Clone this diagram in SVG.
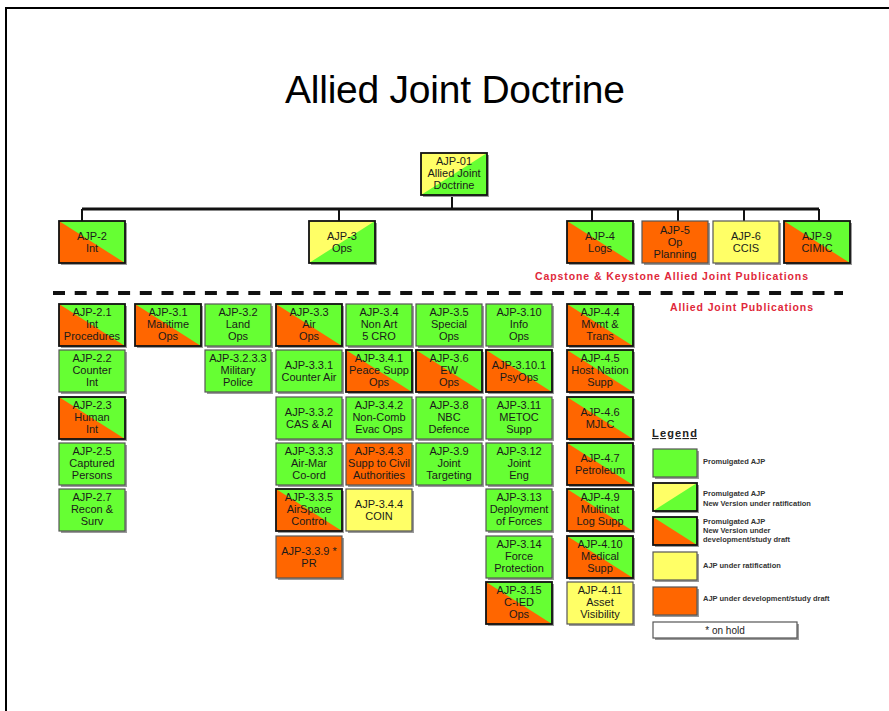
<svg xmlns="http://www.w3.org/2000/svg" xmlns:xlink="http://www.w3.org/1999/xlink" width="889" height="711" viewBox="0 0 889 711">
<style>
.g{fill:#66ff33}
.o{fill:#ff6600}
.y{fill:#ffff66}
.sh{fill:#9a9a9a}
.fr{fill:none;stroke:#555;stroke-width:1.2}
.frb{fill:none;stroke:#111;stroke-width:1.8}
.t{font-family:"Liberation Sans",Arial,sans-serif;font-size:11px;fill:#1a1a1a;text-anchor:middle}
.red{font-family:"Liberation Sans",Arial,sans-serif;font-size:10.5px;font-weight:bold;fill:#e0283a}
.lg{font-family:"Liberation Sans",Arial,sans-serif;font-size:7.5px;font-weight:bold;fill:#333}
.conn{fill:none;stroke:#111;stroke-width:3}
.stem{fill:none;stroke:#111;stroke-width:2}
</style>
<defs>
<g id="bg"><rect x="2" y="2" width="66" height="42" class="sh"/><rect width="66" height="42" class="g"/><rect width="66" height="42" class="fr"/></g>
<g id="bo"><rect x="2" y="2" width="66" height="42" class="sh"/><rect width="66" height="42" class="o"/><rect width="66" height="42" class="fr"/></g>
<g id="by"><rect x="2" y="2" width="66" height="42" class="sh"/><rect width="66" height="42" class="y"/><rect width="66" height="42" class="fr"/></g>
<g id="bog"><rect x="2" y="2" width="66" height="42" class="sh"/><rect width="66" height="42" class="g"/><path d="M0,0 L66,42 L0,42 Z" class="o"/><rect width="66" height="42" class="frb"/></g>
<g id="byg"><rect x="2" y="2" width="66" height="42" class="sh"/><rect width="66" height="42" class="g"/><path d="M0,0 L66,0 L0,42 Z" class="y"/><rect width="66" height="42" class="frb"/></g>
</defs>

<rect width="889" height="711" fill="#fff"/>
<path d="M6,711 V8 H889" fill="none" stroke="#000" stroke-width="2"/>

<text x="455" y="103" text-anchor="middle" textLength="340" font-family="'Liberation Sans',Arial,sans-serif" font-size="39" fill="#000">Allied Joint Doctrine</text>

<g id="connectors">
<path class="stem" d="M452,196 V209"/>
<path class="conn" d="M82,209 H819"/>
<path class="stem" d="M82,209 V221 M339,209 V221 M592,209 V221 M678,209 V221 M744,209 V221 M819,209 V221"/>
<path d="M53,293 H843" fill="none" stroke="#111" stroke-width="4" stroke-dasharray="12,9.7"/>
</g>

<g id="ajp-01" transform="translate(421,153)"><use href="#byg"/><text class="t"><tspan x="33" y="12">AJP-01</tspan><tspan x="33" y="24">Allied Joint</tspan><tspan x="33" y="36">Doctrine</tspan></text></g>

<g id="ajp-2" transform="translate(59,221)"><use href="#bog"/><text class="t"><tspan x="33" y="19">AJP-2</tspan><tspan x="33" y="31">Int</tspan></text></g>
<g id="ajp-3" transform="translate(309,221)"><use href="#byg"/><text class="t"><tspan x="33" y="19">AJP-3</tspan><tspan x="33" y="31">Ops</tspan></text></g>
<g id="ajp-4" transform="translate(567,221)"><use href="#bog"/><text class="t"><tspan x="33" y="19">AJP-4</tspan><tspan x="33" y="31">Logs</tspan></text></g>
<g id="ajp-5" transform="translate(642,221)"><use href="#bo"/><text class="t"><tspan x="33" y="13">AJP-5</tspan><tspan x="33" y="25">Op</tspan><tspan x="33" y="37">Planning</tspan></text></g>
<g id="ajp-6" transform="translate(713,221)"><use href="#by"/><text class="t"><tspan x="33" y="19">AJP-6</tspan><tspan x="33" y="31">CCIS</tspan></text></g>
<g id="ajp-9" transform="translate(784,221)"><use href="#bog"/><text class="t"><tspan x="33" y="19">AJP-9</tspan><tspan x="33" y="31">CIMIC</tspan></text></g>

<text class="red" x="535" y="280" textLength="273">Capstone &amp; Keystone Allied Joint Publications</text>
<text class="red" x="670" y="311" textLength="143">Allied Joint Publications</text>

<!-- column 1 -->
<g id="ajp-2-1" transform="translate(59,304)"><use href="#bog"/><text class="t"><tspan x="33" y="12">AJP-2.1</tspan><tspan x="33" y="24">Int</tspan><tspan x="33" y="36">Procedures</tspan></text></g>
<g id="ajp-2-2" transform="translate(59,350)"><use href="#bg"/><text class="t"><tspan x="33" y="12">AJP-2.2</tspan><tspan x="33" y="24">Counter</tspan><tspan x="33" y="36">Int</tspan></text></g>
<g id="ajp-2-3" transform="translate(59,397)"><use href="#bog"/><text class="t"><tspan x="33" y="12">AJP-2.3</tspan><tspan x="33" y="24">Human</tspan><tspan x="33" y="36">Int</tspan></text></g>
<g id="ajp-2-5" transform="translate(59,443)"><use href="#bg"/><text class="t"><tspan x="33" y="12">AJP-2.5</tspan><tspan x="33" y="24">Captured</tspan><tspan x="33" y="36">Persons</tspan></text></g>
<g id="ajp-2-7" transform="translate(59,489)"><use href="#bg"/><text class="t"><tspan x="33" y="12">AJP-2.7</tspan><tspan x="33" y="24">Recon &amp;</tspan><tspan x="33" y="36">Surv</tspan></text></g>

<!-- column 2 -->
<g id="ajp-3-1" transform="translate(135,304)"><use href="#bog"/><text class="t"><tspan x="33" y="12">AJP-3.1</tspan><tspan x="33" y="24">Maritime</tspan><tspan x="33" y="36">Ops</tspan></text></g>

<!-- column 3 -->
<g id="ajp-3-2" transform="translate(205,304)"><use href="#bg"/><text class="t"><tspan x="33" y="12">AJP-3.2</tspan><tspan x="33" y="24">Land</tspan><tspan x="33" y="36">Ops</tspan></text></g>
<g id="ajp-3-2-3-3" transform="translate(205,350)"><use href="#bg"/><text class="t"><tspan x="33" y="12">AJP-3.2.3.3</tspan><tspan x="33" y="24">Military</tspan><tspan x="33" y="36">Police</tspan></text></g>

<!-- column 4 -->
<g id="ajp-3-3" transform="translate(276,304)"><use href="#bog"/><text class="t"><tspan x="33" y="12">AJP-3.3</tspan><tspan x="33" y="24">Air</tspan><tspan x="33" y="36">Ops</tspan></text></g>
<g id="ajp-3-3-1" transform="translate(276,350)"><use href="#bg"/><text class="t"><tspan x="33" y="19">AJP-3.3.1</tspan><tspan x="33" y="31">Counter Air</tspan></text></g>
<g id="ajp-3-3-2" transform="translate(276,397)"><use href="#bg"/><text class="t"><tspan x="33" y="19">AJP-3.3.2</tspan><tspan x="33" y="31">CAS &amp; AI</tspan></text></g>
<g id="ajp-3-3-3" transform="translate(276,443)"><use href="#bg"/><text class="t"><tspan x="33" y="12">AJP-3.3.3</tspan><tspan x="33" y="24">Air-Mar</tspan><tspan x="33" y="36">Co-ord</tspan></text></g>
<g id="ajp-3-3-5" transform="translate(276,489)"><use href="#bog"/><text class="t"><tspan x="33" y="12">AJP-3.3.5</tspan><tspan x="33" y="24">AirSpace</tspan><tspan x="33" y="36">Control</tspan></text></g>
<g id="ajp-3-3-9" transform="translate(276,536)"><use href="#bo"/><text class="t"><tspan x="33" y="19">AJP-3.3.9 *</tspan><tspan x="33" y="31">PR</tspan></text></g>

<!-- column 5 -->
<g id="ajp-3-4" transform="translate(346,304)"><use href="#bg"/><text class="t"><tspan x="33" y="12">AJP-3.4</tspan><tspan x="33" y="24">Non Art</tspan><tspan x="33" y="36">5 CRO</tspan></text></g>
<g id="ajp-3-4-1" transform="translate(346,350)"><use href="#bog"/><text class="t"><tspan x="33" y="12">AJP-3.4.1</tspan><tspan x="33" y="24">Peace Supp</tspan><tspan x="33" y="36">Ops</tspan></text></g>
<g id="ajp-3-4-2" transform="translate(346,397)"><use href="#bg"/><text class="t"><tspan x="33" y="12">AJP-3.4.2</tspan><tspan x="33" y="24">Non-Comb</tspan><tspan x="33" y="36">Evac Ops</tspan></text></g>
<g id="ajp-3-4-3" transform="translate(346,443)"><use href="#bo"/><text class="t"><tspan x="33" y="12">AJP-3.4.3</tspan><tspan x="33" y="24">Supp to Civil</tspan><tspan x="33" y="36">Authorities</tspan></text></g>
<g id="ajp-3-4-4" transform="translate(346,489)"><use href="#by"/><text class="t"><tspan x="33" y="19">AJP-3.4.4</tspan><tspan x="33" y="31">COIN</tspan></text></g>

<!-- column 6 -->
<g id="ajp-3-5" transform="translate(416,304)"><use href="#bg"/><text class="t"><tspan x="33" y="12">AJP-3.5</tspan><tspan x="33" y="24">Special</tspan><tspan x="33" y="36">Ops</tspan></text></g>
<g id="ajp-3-6" transform="translate(416,350)"><use href="#bog"/><text class="t"><tspan x="33" y="12">AJP-3.6</tspan><tspan x="33" y="24">EW</tspan><tspan x="33" y="36">Ops</tspan></text></g>
<g id="ajp-3-8" transform="translate(416,397)"><use href="#bg"/><text class="t"><tspan x="33" y="12">AJP-3.8</tspan><tspan x="33" y="24">NBC</tspan><tspan x="33" y="36">Defence</tspan></text></g>
<g id="ajp-3-9" transform="translate(416,443)"><use href="#bg"/><text class="t"><tspan x="33" y="12">AJP-3.9</tspan><tspan x="33" y="24">Joint</tspan><tspan x="33" y="36">Targeting</tspan></text></g>

<!-- column 7 -->
<g id="ajp-3-10" transform="translate(486,304)"><use href="#bg"/><text class="t"><tspan x="33" y="12">AJP-3.10</tspan><tspan x="33" y="24">Info</tspan><tspan x="33" y="36">Ops</tspan></text></g>
<g id="ajp-3-10-1" transform="translate(486,350)"><use href="#bog"/><text class="t"><tspan x="33" y="19">AJP-3.10.1</tspan><tspan x="33" y="31">PsyOps</tspan></text></g>
<g id="ajp-3-11" transform="translate(486,397)"><use href="#bg"/><text class="t"><tspan x="33" y="12">AJP-3.11</tspan><tspan x="33" y="24">METOC</tspan><tspan x="33" y="36">Supp</tspan></text></g>
<g id="ajp-3-12" transform="translate(486,443)"><use href="#bg"/><text class="t"><tspan x="33" y="12">AJP-3.12</tspan><tspan x="33" y="24">Joint</tspan><tspan x="33" y="36">Eng</tspan></text></g>
<g id="ajp-3-13" transform="translate(486,489)"><use href="#bg"/><text class="t"><tspan x="33" y="12">AJP-3.13</tspan><tspan x="33" y="24">Deployment</tspan><tspan x="33" y="36">of Forces</tspan></text></g>
<g id="ajp-3-14" transform="translate(486,536)"><use href="#bg"/><text class="t"><tspan x="33" y="12">AJP-3.14</tspan><tspan x="33" y="24">Force</tspan><tspan x="33" y="36">Protection</tspan></text></g>
<g id="ajp-3-15" transform="translate(486,582)"><use href="#bog"/><text class="t"><tspan x="33" y="12">AJP-3.15</tspan><tspan x="33" y="24">C-IED</tspan><tspan x="33" y="36">Ops</tspan></text></g>

<!-- column 8 -->
<g id="ajp-4-4" transform="translate(567,304)"><use href="#bog"/><text class="t"><tspan x="33" y="12">AJP-4.4</tspan><tspan x="33" y="24">Mvmt &amp;</tspan><tspan x="33" y="36">Trans</tspan></text></g>
<g id="ajp-4-5" transform="translate(567,350)"><use href="#bog"/><text class="t"><tspan x="33" y="12">AJP-4.5</tspan><tspan x="33" y="24">Host Nation</tspan><tspan x="33" y="36">Supp</tspan></text></g>
<g id="ajp-4-6" transform="translate(567,397)"><use href="#bog"/><text class="t"><tspan x="33" y="19">AJP-4.6</tspan><tspan x="33" y="31">MJLC</tspan></text></g>
<g id="ajp-4-7" transform="translate(567,443)"><use href="#bog"/><text class="t"><tspan x="33" y="19">AJP-4.7</tspan><tspan x="33" y="31">Petroleum</tspan></text></g>
<g id="ajp-4-9" transform="translate(567,489)"><use href="#bog"/><text class="t"><tspan x="33" y="12">AJP-4.9</tspan><tspan x="33" y="24">Multinat</tspan><tspan x="33" y="36">Log Supp</tspan></text></g>
<g id="ajp-4-10" transform="translate(567,536)"><use href="#bog"/><text class="t"><tspan x="33" y="12">AJP-4.10</tspan><tspan x="33" y="24">Medical</tspan><tspan x="33" y="36">Supp</tspan></text></g>
<g id="ajp-4-11" transform="translate(567,582)"><use href="#by"/><text class="t"><tspan x="33" y="12">AJP-4.11</tspan><tspan x="33" y="24">Asset</tspan><tspan x="33" y="36">Visibility</tspan></text></g>

<!-- legend -->
<g id="legend">
<text x="652" y="437" font-family="'Liberation Sans',Arial,sans-serif" font-size="11" font-weight="bold" fill="#222" text-decoration="underline" textLength="45">Legend</text>
<rect x="655" y="451" width="44" height="28" class="sh"/><rect x="653" y="449" width="44" height="28" class="g"/><rect x="653" y="449" width="44" height="28" class="fr"/>
<rect x="655" y="485" width="44" height="28" class="sh"/><rect x="653" y="483" width="44" height="28" class="g"/><path d="M653,483 H697 L653,511 Z" class="y"/><rect x="653" y="483" width="44" height="28" class="frb"/>
<rect x="655" y="519" width="44" height="28" class="sh"/><rect x="653" y="517" width="44" height="28" class="g"/><path d="M653,517 L697,545 H653 Z" class="o"/><rect x="653" y="517" width="44" height="28" class="frb"/>
<rect x="655" y="554" width="44" height="28" class="sh"/><rect x="653" y="552" width="44" height="28" class="y"/><rect x="653" y="552" width="44" height="28" class="fr"/>
<rect x="655" y="589" width="44" height="28" class="sh"/><rect x="653" y="587" width="44" height="28" class="o"/><rect x="653" y="587" width="44" height="28" class="fr"/>
<text class="lg" x="703" y="464">Promulgated AJP</text>
<text class="lg"><tspan x="703" y="496">Promulgated AJP</tspan><tspan x="703" y="506">New Version under ratification</tspan></text>
<text class="lg"><tspan x="703" y="524">Promulgated AJP</tspan><tspan x="703" y="533">New Version under</tspan><tspan x="703" y="542">development/study draft</tspan></text>
<text class="lg" x="703" y="568">AJP under ratification</text>
<text class="lg" x="703" y="601">AJP under development/study draft</text>
<rect x="655" y="624" width="144" height="16" class="sh"/><rect x="653" y="622" width="144" height="16" fill="#fff" stroke="#555" stroke-width="1.2"/>
<text x="725" y="634" text-anchor="middle" font-family="'Liberation Sans',Arial,sans-serif" font-size="10" fill="#222">* on hold</text>
</g>
</svg>
